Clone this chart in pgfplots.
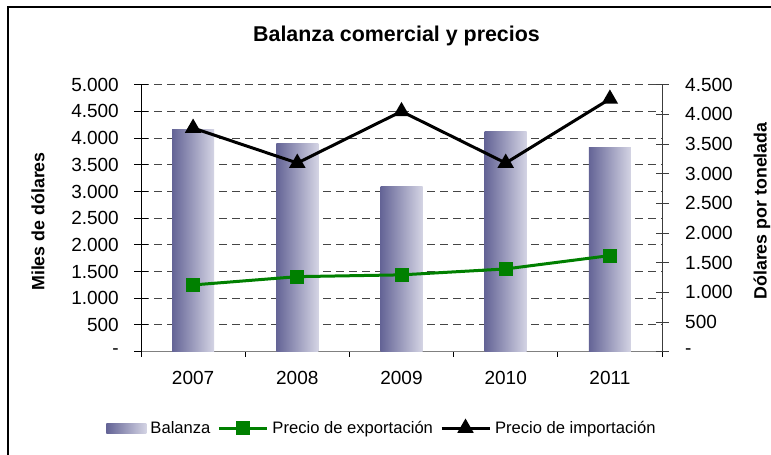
\documentclass[border=0pt]{standalone}
\usepackage{fontspec}
\setmainfont{Liberation Sans}
\usepackage{pgfplots}
\pgfplotsset{compat=1.18}
\definecolor{bardark}{RGB}{100,100,150}
\definecolor{barlight}{RGB}{212,212,228}
\definecolor{expgreen}{RGB}{0,128,0}
\definecolor{gridc}{RGB}{70,70,70}
\pgfplotsset{
  longline/.style={legend image code/.code={\draw[mark repeat=2,mark phase=2,##1] plot coordinates {(0bp,0bp) (24bp,0bp) (48bp,0bp)};}},
  barlegend/.style={legend image code/.code={\path[draw=none, left color=bardark, right color=barlight] (0bp,-5bp) rectangle (40bp,5bp);}},
  gbar/.style={ybar, bar width=42bp, bar shift=0pt, draw=none, left color=bardark, right color=barlight},
}
\begin{document}
\begin{tikzpicture}
\useasboundingbox (0,0) rectangle (771bp,455bp);
\fill[white] (0,0) rectangle (771bp,455bp);
\draw[black, line width=1.2bp] (8bp,-10bp) -- (8bp,448bp) -- (780bp,448bp);
\node[font=\fontsize{21.4bp}{25bp}\selectfont\bfseries] at (396.5bp,419bp) {Balanza comercial y precios};
\node[rotate=90, font=\fontsize{17.8bp}{21bp}\selectfont\bfseries] at (38bp,233.5bp) {Miles de dólares};
\node[rotate=90, font=\fontsize{17.8bp}{21bp}\selectfont\bfseries] at (762bp,244bp) {Dólares por tonelada};
\begin{axis}[
  at={(141bp,103.3bp)}, anchor=south west, scale only axis,
  width=521bp, height=267bp,
  xmin=-0.5, xmax=4.5, ymin=0, ymax=5000,
  axis y line*=left, axis x line*=bottom,
  x axis line style={draw={rgb,255:red,128;green,128;blue,128}, line width=1.2bp},
  y axis line style={draw=black, line width=1bp},
  xtick=\empty,
  ytick={0,500,...,5000},
  yticklabels={-,500,1.000,1.500,2.000,2.500,3.000,3.500,4.000,4.500,5.000},
  major tick length=13bp,
  y tick style={draw=black, line width=1bp},
  ytick align=center,
  yticklabel style={font=\fontsize{19bp}{22bp}\selectfont, inner sep=0pt, anchor=east, xshift=-15.5bp},
  ymajorgrids,
  grid style={draw=gridc, line width=1bp, dash pattern=on 8bp off 5bp},
]
\addplot[gbar] coordinates {(0,4170)};
\addplot[gbar] coordinates {(1,3890)};
\addplot[gbar] coordinates {(2,3085)};
\addplot[gbar] coordinates {(3,4130)};
\addplot[gbar] coordinates {(4,3815)};
\end{axis}
\begin{axis}[
  at={(141bp,103.3bp)}, anchor=south west, scale only axis,
  width=521bp, height=267bp,
  xmin=-0.5, xmax=4.5, ymin=0, ymax=1,
  axis y line=none, axis x line*=bottom,
  x axis line style={draw=none},
  xtick={-0.5,0.5,1.5,2.5,3.5,4.5}, xticklabels={},
  major tick length=5bp,
  x tick style={draw=black, line width=1bp},
  xtick align=outside,
]
\end{axis}
\begin{axis}[
  at={(141bp,103.3bp)}, anchor=south west, scale only axis,
  width=521bp, height=267bp,
  xmin=-0.5, xmax=4.5, ymin=0, ymax=4500,
  axis y line*=right, axis x line*=bottom,
  x axis line style={draw=none},
  y axis line style={draw={rgb,255:red,60;green,60;blue,60}, line width=1bp},
  xtick={0,1,2,3,4}, xticklabels={2007,2008,2009,2010,2011},
  x tick style={draw=none},
  xticklabel style={font=\fontsize{19bp}{22bp}\selectfont, inner sep=0pt, anchor=center, yshift=-26bp},
  ytick={0,500,...,4500},
  yticklabels={-,500,1.000,1.500,2.000,2.500,3.000,3.500,4.000,4.500},
  major tick length=13bp,
  y tick style={draw={rgb,255:red,60;green,60;blue,60}, line width=1bp},
  ytick align=center,
  yticklabel style={font=\fontsize{19bp}{22bp}\selectfont, inner sep=0pt, anchor=west, xshift=16.5bp},
  legend style={at={(0.4626,-0.2858)}, anchor=center, draw=none, fill=none,
    legend columns=-1, font=\fontsize{16.6bp}{20bp}\selectfont,
    /tikz/every even column/.append style={column sep=5bp},
    /tikz/every odd column/.append style={column sep=2bp}},
  legend cell align=left,
]
\addlegendimage{barlegend}
\addlegendentry{Balanza}
\addplot[expgreen, line width=3bp, mark=square*, mark size=5.5bp, mark options={solid}, longline]
  coordinates {(0,1125) (1,1265) (2,1295) (3,1395) (4,1620)};
\addlegendentry{Precio de exportación}
\addplot[black, line width=3bp, mark=triangle*, mark size=6.5bp, mark options={solid}, longline]
  coordinates {(0,3770) (1,3180) (2,4050) (3,3180) (4,4260)};
\addlegendentry{Precio de importación}
\end{axis}
\end{tikzpicture}
\end{document}
